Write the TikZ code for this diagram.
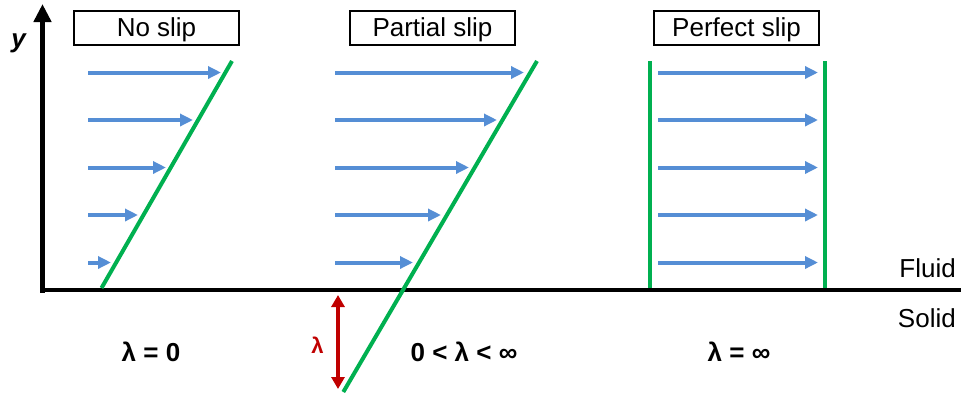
\documentclass[tikz,border=0pt]{standalone}
\usepackage{fontspec}
\setmainfont{Liberation Sans}
\usetikzlibrary{arrows.meta}
\definecolor{flowblue}{RGB}{85,142,213}
\definecolor{slipgreen}{RGB}{0,176,80}
\definecolor{lamred}{RGB}{192,0,0}
\begin{document}
\begin{tikzpicture}[x=1pt,y=-1pt,
  vel/.style={flowblue, line width=4pt, -{Triangle[length=13pt,width=12pt]}},
  prof/.style={slipgreen, line width=4pt},
  axisline/.style={black, line width=4.5pt},
  titlebox/.style={draw, line width=2.4pt, minimum width=165pt, minimum height=34pt, inner sep=0pt,
    text height=22pt, text depth=4.6pt, font=\fontsize{26}{30}\selectfont},
  lab/.style={font=\fontsize{26}{30}\selectfont\bfseries, anchor=base, inner sep=0pt},
  side/.style={font=\fontsize{26}{30}\selectfont, anchor=base east, inner sep=0pt}]
\useasboundingbox (0,0) rectangle (961,392);
% axes
\coordinate (yb) at (42.5,292.5);
\coordinate (yt) at (42.5,4);
\coordinate (xa) at (40,290);
\coordinate (xb) at (961,290);
\draw[axisline] (xa) -- (xb);
\draw[axisline, -{Triangle[length=18pt,width=17pt]}] (yb) -- (yt);
\node[font=\fontsize{26}{30}\selectfont\bfseries\itshape, anchor=base, inner sep=0pt] (ylab) at (18.5,47) {y};
% titles
\node[titlebox] (t1) at (156.5,28) {No slip};
\node[titlebox] (t2) at (432.5,28) {Partial slip};
\node[titlebox] (t3) at (736.5,28) {Perfect slip};
% no slip
\coordinate (g1b) at (101.5,288);
\coordinate (g1t) at (232,61);
\draw[prof] (g1b) -- (g1t);
\foreach \i/\y/\t in {1/72.5/221,2/120/193,3/167.5/166,4/215/138,5/262.5/111}{
  \coordinate (as\i) at (88,\y);
  \coordinate (ae\i) at (\t,\y);
  \draw[vel] (as\i) -- (ae\i);
}
% partial slip
\coordinate (g2b) at (343.3,392);
\coordinate (g2t) at (537,61);
\draw[prof] (g2b) -- (g2t);
\foreach \i/\y/\t in {1/72.5/524,2/120/497,3/167.5/469,4/215/441,5/262.5/413}{
  \coordinate (bs\i) at (335,\y);
  \coordinate (be\i) at (\t,\y);
  \draw[vel] (bs\i) -- (be\i);
}
% perfect slip
\coordinate (g3at) at (649.5,61);
\coordinate (g3ab) at (649.5,288);
\coordinate (g3bt) at (824.5,61);
\coordinate (g3bb) at (824.5,288);
\draw[prof] (g3at) -- (g3ab);
\draw[prof] (g3bt) -- (g3bb);
\foreach \i/\y in {1/72.5,2/120,3/167.5,4/215,5/262.5}{
  \coordinate (cs\i) at (658,\y);
  \coordinate (ce\i) at (818,\y);
  \draw[vel] (cs\i) -- (ce\i);
}
% slip length
\coordinate (lt) at (338,295);
\coordinate (lb) at (338,389);
\draw[lamred, line width=3.5pt, {Triangle[length=12pt,width=13pt]}-{Triangle[length=12pt,width=13pt]}] (lt) -- (lb);
\node[font=\fontsize{22}{26}\selectfont\bfseries, text=lamred, inner sep=0pt] (lred) at (317.5,345) {λ};
% labels
\node[lab] (l1) at (151,361) {λ = 0};
\node[lab] (l2) at (464,361) {0 < λ < ∞};
\node[lab] (l3) at (739,361) {λ = ∞};
\node[side] (fluid) at (956,277) {Fluid};
\node[side] (solid) at (956,327) {Solid};
\end{tikzpicture}
\end{document}
